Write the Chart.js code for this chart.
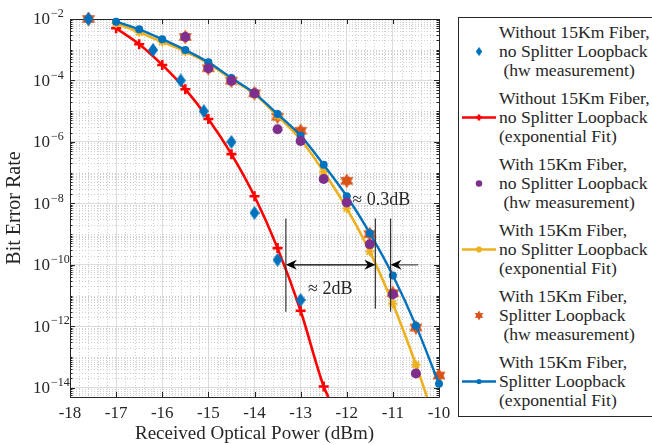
<!DOCTYPE html>
<html>
<head>
<meta charset="utf-8">
<script src="https://cdn.jsdelivr.net/npm/chart.js@4"></script>
<style>
body { margin: 0; background: #fff; overflow: hidden; }
#wrap { position: relative; width: 652px; height: 445px; }
#legend { position: absolute; left: 458px; top: 17px; width: 240px; height: 400px; border: 1px solid #262626; box-sizing: border-box; background: #fff; font-family: "Liberation Serif", serif; font-size: 17.6px; color: #262626; }
.item { position: absolute; left: 0; width: 240px; height: 57px; }
.item .txt { position: absolute; left: 40px; top: 0; line-height: 19px; white-space: pre; }
.item canvas { position: absolute; left: 0; top: 19px; }
</style>
</head>
<body>
<div id="wrap">
  <canvas id="myChart" width="652" height="445"></canvas>
  <div id="legend"></div>
</div>
<script>
// tick values
const xTickValues = [-18, -17, -16, -15, -14, -13, -12, -11, -10];
const yTickExps = [-2, -4, -6, -8, -10, -12, -14];

// without fiber, no splitter - hw measurement
const xHw1 = [-17.6, -16.2, -15.6, -15.1, -14.5, -14, -13.5, -13];
const berHw1 = [1e-2, 9.8e-4, 1.0e-4, 1.0e-5, 1.0e-6, 4.9e-9, 1.45e-10, 7.2e-12];
// without fiber, no splitter - fit
const xFit1 = [-17, -16.5, -16, -15.5, -15, -14.5, -14, -13.5, -13, -12.5, -12.4];
const berFit1 = [5e-3, 1.5e-3, 3.2e-4, 5.2e-5, 5.6e-6, 4e-7, 1.7e-8, 3.5e-10, 3.2e-12, 1.1e-14, 5e-15];
// with fiber, no splitter - hw measurement
const xHw2 = [-15.5, -15, -14.5, -14, -13.5, -13, -12.5, -12, -11.5, -11, -10.5];
const berHw2 = [2.6e-3, 2.5e-4, 9.8e-5, 3.8e-5, 2.6e-6, 1.07e-6, 6.2e-8, 1.07e-8, 4.7e-10, 1.1e-11, 2.9e-14];
// with fiber, no splitter - fit
const xFit2 = [-17, -16.5, -16, -15.5, -15, -14.5, -14, -13.5, -13, -12.5, -12, -11.5, -11, -10.5, -10.26];
const berFit2 = [7.2e-3, 3.7e-3, 1.8e-3, 8.7e-4, 3.6e-4, 1.1e-4, 3.6e-5, 7e-6, 1.2e-6, 1.07e-7, 6.9e-9, 2.7e-10, 5.4e-12, 5.6e-14, 5e-15];
// with fiber, splitter - hw measurement
const xHw3 = [-17.6, -15.5, -15, -14.5, -14, -13.5, -13, -12, -11.5, -11, -10.5, -10];
const berHw3 = [1e-2, 2.6e-3, 2.5e-4, 9.8e-5, 3.8e-5, 6.6e-6, 2.3e-6, 5.4e-8, 1e-9, 1.2e-11, 9.1e-13, 2.5e-14];
// with fiber, splitter - fit
const xFit3 = [-17, -16.5, -16, -15.5, -15, -14.5, -14, -13.5, -13, -12.5, -12, -11.5, -11, -10.5, -10];
const berFit3 = [8.2e-3, 4.6e-3, 2.2e-3, 9.8e-4, 3.9e-4, 1.2e-4, 3.8e-5, 8.1e-6, 1.6e-6, 1.8e-7, 1.7e-8, 1.07e-9, 4.5e-11, 1.05e-12, 1.35e-14];

const legendTexts = [
    ['Without 15Km Fiber,', 'no Splitter Loopback', ' (hw measurement)'],
    ['Without 15Km Fiber,', 'no Splitter Loopback', '(exponential Fit)'],
    ['With 15Km Fiber,', 'no Splitter Loopback', ' (hw measurement)'],
    ['With 15Km Fiber,', 'no Splitter Loopback', '(exponential Fit)'],
    ['With 15Km Fiber,', 'Splitter Loopback', ' (hw measurement)'],
    ['With 15Km Fiber,', 'Splitter Loopback', '(exponential Fit)']
];

// annotation positions (dBm / BER)
const vLines = [[-13.32, 3.2e-9, 3e-12], [-11.38, 3.2e-9, 3.7e-12], [-11.05, 3.2e-9, 3e-12]];
const arrowY = 1e-10;

function pts(xs, ys) {
    return xs.map((x, i) => ({ x: x, y: ys[i] }));
}

function makeDiamond(color) {
    var c = document.createElement('canvas');
    c.width = 10; c.height = 14;
    var g = c.getContext('2d');
    g.fillStyle = color;
    g.beginPath();
    g.moveTo(5, 0); g.lineTo(10, 7); g.lineTo(5, 14); g.lineTo(0, 7);
    g.closePath(); g.fill();
    return c;
}

function makeHexagram(color) {
    var c = document.createElement('canvas');
    c.width = 16; c.height = 16;
    var g = c.getContext('2d');
    g.fillStyle = color;
    var r = 7.6;
    for (let k = 0; k < 2; k++) {
        g.beginPath();
        for (let j = 0; j < 3; j++) {
            var a = -Math.PI / 2 + k * Math.PI + j * 2 * Math.PI / 3;
            var px = 8 + r * Math.cos(a), py = 8 + r * Math.sin(a);
            if (j == 0) g.moveTo(px, py); else g.lineTo(px, py);
        }
        g.closePath(); g.fill();
    }
    return c;
}

var blue = '#0072BD', red = '#FF0000', purple = '#7E2F8E', yellow = '#EDB120', orange = '#D95319';
var diamond = makeDiamond(blue);
var hexa = makeHexagram(orange);

function lastHidden(r) {
    return function (ctx) {
        return ctx.dataIndex < ctx.dataset.data.length - 1 ? r : 0;
    };
}

var datasets = [
    { data: pts(xHw1, berHw1), pointStyle: diamond, showLine: false, order: 1 },
    { data: pts(xFit1, berFit1), showLine: true, borderColor: red, backgroundColor: red, borderWidth: 2.6,
      pointStyle: 'cross', pointRadius: lastHidden(5), pointBorderWidth: 2.6, pointBorderColor: red, order: 4 },
    { data: pts(xHw2, berHw2), pointStyle: 'circle', pointRadius: 5, pointBorderWidth: 0, backgroundColor: purple, showLine: false, order: 0 },
    { data: pts(xFit2, berFit2), showLine: true, borderColor: yellow, backgroundColor: yellow, borderWidth: 2.6,
      pointStyle: 'star', pointRadius: lastHidden(4.6), pointBorderWidth: 1.8, pointBorderColor: yellow, order: 3 },
    { data: pts(xHw3, berHw3), pointStyle: hexa, showLine: false, order: 5 },
    { data: pts(xFit3, berFit3), showLine: true, borderColor: blue, backgroundColor: blue, borderWidth: 2.4,
      pointStyle: 'circle', pointRadius: 4, pointBorderWidth: 0, order: 2 }
];
datasets.forEach(d => { d.clip = false; d.cubicInterpolationMode = 'monotone'; });

var textColor = '#262626';
var serif = '"Liberation Serif", serif';

var boxPlugin = {
    id: 'boxPlugin',
    beforeDatasetsDraw(chart) {
        var ctx = chart.ctx, a = chart.chartArea;
        var xs = chart.scales.x, ys = chart.scales.y;
        ctx.save();
        // minor grid
        ctx.strokeStyle = '#cfcfcf';
        ctx.lineWidth = 1;
        ctx.setLineDash([1, 2]);
        ctx.beginPath();
        for (let i = 0; i <= 40; i++) {
            if (i % 5 == 0) continue;
            var px = Math.round(xs.getPixelForValue(-18 + i * 0.2)) + 0.5;
            ctx.moveTo(px, a.top); ctx.lineTo(px, a.bottom);
        }
        var minors = [];
        for (let d = -15; d <= -3; d++) {
            for (let m = 1; m <= 9; m++) {
                var v = m * Math.pow(10, d);
                if (v <= ys.min || v >= ys.max) continue;
                minors.push(v);
                if (m == 1 && d % 2 == 0) continue;
                var py = Math.round(ys.getPixelForValue(v)) + 0.5;
                ctx.moveTo(a.left, py); ctx.lineTo(a.right, py);
            }
        }
        ctx.stroke();
        ctx.setLineDash([]);
        // axes box and inward ticks
        ctx.strokeStyle = textColor;
        ctx.beginPath();
        ctx.rect(Math.round(a.left) + 0.5, Math.round(a.top) + 0.5, Math.round(a.right - a.left), Math.round(a.bottom - a.top));
        xTickValues.forEach(v => {
            var px = Math.round(xs.getPixelForValue(v)) + 0.5;
            ctx.moveTo(px, a.bottom); ctx.lineTo(px, a.bottom - 5);
            ctx.moveTo(px, a.top); ctx.lineTo(px, a.top + 5);
        });
        minors.forEach(v => {
            var py = Math.round(ys.getPixelForValue(v)) + 0.5;
            var major = Math.abs(Math.log10(v) - Math.round(Math.log10(v))) < 1e-9 && Math.round(Math.log10(v)) % 2 == 0;
            var len = major ? 5 : 2.5;
            ctx.moveTo(a.left, py); ctx.lineTo(a.left + len, py);
            ctx.moveTo(a.right, py); ctx.lineTo(a.right - len, py);
        });
        ctx.stroke();
        ctx.restore();
    },
    afterDatasetsDraw(chart) {
        var ctx = chart.ctx;
        var xs = chart.scales.x, ys = chart.scales.y;
        ctx.save();
        // vertical marker lines
        ctx.strokeStyle = '#333';
        ctx.lineWidth = 1.2;
        ctx.beginPath();
        vLines.forEach(l => {
            var px = xs.getPixelForValue(l[0]);
            ctx.moveTo(px, ys.getPixelForValue(l[1]));
            ctx.lineTo(px, ys.getPixelForValue(l[2]));
        });
        ctx.stroke();
        var ay = ys.getPixelForValue(arrowY);
        var x1 = xs.getPixelForValue(vLines[0][0]), x2 = xs.getPixelForValue(vLines[1][0]);
        var x3 = xs.getPixelForValue(vLines[2][0]), x4 = xs.getPixelForValue(-10.45);
        ctx.strokeStyle = '#000';
        ctx.lineWidth = 1.3;
        ctx.beginPath();
        ctx.moveTo(x1 + 6, ay); ctx.lineTo(x2 - 6, ay);
        ctx.stroke();
        ctx.strokeStyle = '#555';
        ctx.beginPath();
        ctx.moveTo(x3 + 6, ay); ctx.lineTo(x4, ay);
        ctx.stroke();
        function head(tipX, dir) {
            ctx.fillStyle = '#000';
            ctx.beginPath();
            ctx.moveTo(tipX, ay);
            ctx.lineTo(tipX + dir * 11, ay - 5);
            ctx.lineTo(tipX + dir * 7.5, ay);
            ctx.lineTo(tipX + dir * 11, ay + 5);
            ctx.closePath();
            ctx.fill();
        }
        head(x1, 1); head(x2, -1); head(x3, 1);
        // labels
        ctx.fillStyle = textColor;
        ctx.font = '18px ' + serif;
        ctx.textBaseline = 'middle';
        ctx.textAlign = 'left';
        ctx.fillText('\u2248 2dB', xs.getPixelForValue(-12.84), ys.getPixelForValue(1.65e-11));
        ctx.fillText('\u2248 0.3dB', xs.getPixelForValue(-11.88), ys.getPixelForValue(1.3e-8));
        ctx.restore();
    },
    afterDraw(chart) {
        // y tick labels as 10 with raised exponent
        var ctx = chart.ctx, ys = chart.scales.y;
        ctx.save();
        ctx.fillStyle = textColor;
        ctx.textBaseline = 'middle';
        yTickExps.forEach(e => {
            var py = ys.getPixelForValue(Math.pow(10, e));
            ctx.font = '17px ' + serif;
            ctx.textAlign = 'right';
            ctx.fillText('10', 50, py + 1);
            ctx.font = '12px ' + serif;
            ctx.textAlign = 'left';
            ctx.fillText('\u2212' + Math.abs(e), 51, py - 5);
        });
        ctx.restore();
    }
};

var myChart = new Chart(document.getElementById('myChart'), {
    type: 'scatter',
    data: { datasets: datasets },
    options: {
        responsive: false,
        animation: false,
        events: [],
        devicePixelRatio: 1,
        layout: { padding: { top: 19, right: 213, left: 0, bottom: 0 } },
        plugins: { legend: { display: false }, tooltip: { enabled: false } },
        scales: {
            x: {
                type: 'linear', min: -18, max: -10,
                afterBuildTicks: s => { s.ticks = xTickValues.map(v => ({ value: v })); },
                afterFit: s => { s.height = 48; },
                grid: { color: '#dcdcdc', drawTicks: false },
                border: { display: false },
                ticks: { color: textColor, font: { family: serif, size: 17 }, padding: 6, maxRotation: 0,
                         callback: v => String(v).replace('\u2212', '-') },
                title: { display: true, text: 'Received Optical Power (dBm)', color: textColor,
                         font: { family: serif, size: 19 }, padding: { top: 0, bottom: 0 } }
            },
            y: {
                type: 'logarithmic', min: 5e-15, max: 1e-2,
                afterBuildTicks: s => { s.ticks = yTickExps.map(e => ({ value: Math.pow(10, e) })); },
                afterFit: s => { s.width = 70; },
                grid: { color: '#dcdcdc', drawTicks: false },
                border: { display: false },
                ticks: { display: false },
                title: { display: true, text: 'Bit Error Rate', color: textColor,
                         font: { family: serif, size: 20 }, padding: { top: 3, bottom: 0 } }
            }
        }
    },
    plugins: [boxPlugin]
});

// html legend with icons drawn like the datasets
var legendDiv = document.getElementById('legend');
datasets.forEach(function (d, i) {
    var item = document.createElement('div');
    item.className = 'item';
    item.style.top = (5 + 66 * i) + 'px';
    var txt = document.createElement('div');
    txt.className = 'txt';
    txt.textContent = legendTexts[i].join('\n');
    var ic = document.createElement('canvas');
    ic.width = 40; ic.height = 19;
    var g = ic.getContext('2d');
    var cy = 9.5, cx = 20;
    if (d.showLine) {
        g.strokeStyle = d.borderColor;
        g.lineWidth = d.borderWidth;
        g.beginPath(); g.moveTo(3, cy); g.lineTo(37, cy); g.stroke();
    }
    if (typeof d.pointStyle !== 'string') {
        var s = 0.65;
        g.drawImage(d.pointStyle, cx - d.pointStyle.width / 2 * s, cy - d.pointStyle.height / 2 * s,
            d.pointStyle.width * s, d.pointStyle.height * s);
    } else {
        g.fillStyle = d.backgroundColor;
        g.strokeStyle = d.pointBorderColor || d.backgroundColor;
        var r = typeof d.pointRadius === 'number' ? d.pointRadius : 4.5;
        Chart.helpers.drawPoint(g, { pointStyle: d.pointStyle, radius: r * 0.65, borderWidth: d.pointBorderWidth || 0, rotation: 0 }, cx, cy);
    }
    item.appendChild(ic);
    item.appendChild(txt);
    legendDiv.appendChild(item);
});
</script>
</body>
</html>
